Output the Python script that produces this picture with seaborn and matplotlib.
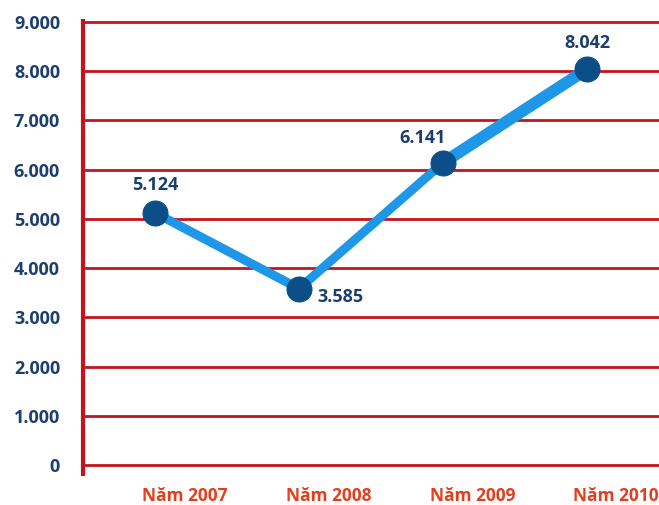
import matplotlib
matplotlib.use("Agg")
import matplotlib.pyplot as plt
import seaborn as sns
import pandas as pd

categories = ["Năm 2007", "Năm 2008", "Năm 2009", "Năm 2010"]
values = [5124, 3585, 6141, 8042]
value_labels = ["5.124", "3.585", "6.141", "8.042"]
y_ticks = [0, 1000, 2000, 3000, 4000, 5000, 6000, 7000, 8000, 9000]
y_tick_labels = ["0", "1.000", "2.000", "3.000", "4.000", "5.000", "6.000", "7.000", "8.000", "9.000"]

sns.set_style("white")
plt.rcParams['font.family'] = ['Open Sans', 'DejaVu Sans']

RED = "#c3141d"
NAVY = "#1d3f6e"
LBLUE = "#1f97e8"
DBLUE = "#0c4e87"
ORANGE = "#e0401f"

df = pd.DataFrame({"x": range(len(categories)), "y": values})

fig = plt.figure(figsize=(6.59, 5.05), dpi=100)
ax = fig.add_axes([83/659, (505-473.5)/505, 1 - 83/659, (473.5-21)/505])

sns.lineplot(data=df, x="x", y="y", ax=ax, color=LBLUE, linewidth=6.5,
             marker="o", markersize=18, markerfacecolor=DBLUE,
             markeredgecolor=DBLUE, zorder=5, solid_capstyle="round")
# last segment drawn thicker, as in the reference
sns.lineplot(data=df.iloc[2:], x="x", y="y", ax=ax, color=LBLUE, linewidth=8.5,
             zorder=4, solid_capstyle="round")

ax.set_xlim(-0.5, 3.5)
ax.set_ylim(-170, 9020)

ax.set_yticks(y_ticks)
ax.set_yticklabels(y_tick_labels, fontsize=13, fontweight="bold", color=NAVY)
ax.yaxis.grid(True, color=RED, linewidth=2.0)
ax.set_axisbelow(True)
ax.tick_params(axis="y", length=7.5, width=2.0, color=RED, pad=9, direction="out")

ax.set_xticks([i + 0.5 for i in range(len(categories))])
ax.set_xticklabels(categories, fontsize=12.5, fontweight="bold", color=ORANGE)
for lab in ax.get_xticklabels():
    lab.set_horizontalalignment("right")
ax.tick_params(axis="x", length=6, width=3, color=RED, direction="in", pad=10)

for s in ["top", "right", "bottom"]:
    ax.spines[s].set_visible(False)
ax.spines["left"].set_color(RED)
ax.spines["left"].set_linewidth(3)
ax.set_xlabel("")
ax.set_ylabel("")

offsets = [(0, 20, "center", "center"), (13, -6, "left", "center"),
           (-15, 18, "center", "center"), (0, 19, "center", "center")]
for i, (v, t) in enumerate(zip(values, value_labels)):
    dx, dy, ha, va = offsets[i]
    ax.annotate(t, (i, v), xytext=(dx, dy), textcoords="offset points",
                ha=ha, va=va, fontsize=13, fontweight="bold", color=NAVY, zorder=6)

fig.savefig("out.png", dpi=100)
